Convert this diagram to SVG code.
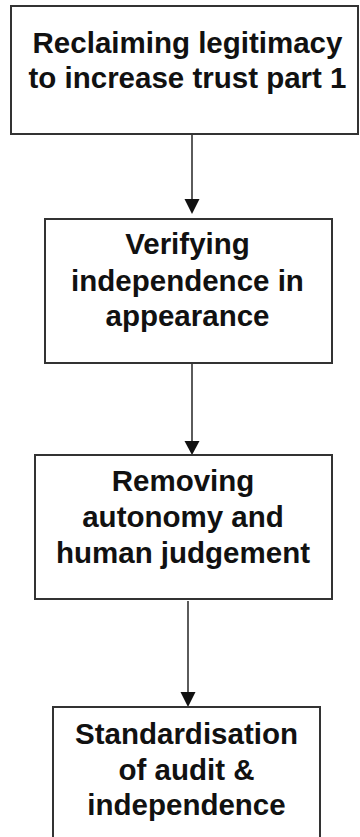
<svg xmlns="http://www.w3.org/2000/svg" width="360" height="837" viewBox="0 0 360 837">
  <style>
    .box { fill: #ffffff; stroke: #333333; stroke-width: 2; }
    .label { font-family: "Liberation Sans", Arial, sans-serif; font-weight: bold; font-size: 29.5px; fill: #111111; text-anchor: middle; }
    .link { stroke: #333333; stroke-width: 1.6; fill: none; }
    .head { fill: #111111; }
  </style>
  <rect width="360" height="837" fill="#ffffff"/>

  <g id="connectors">
    <line class="link" x1="192" y1="134" x2="192" y2="202"/>
    <polygon class="head" points="184.5,199 199.5,199 192,214"/>
    <line class="link" x1="192" y1="363" x2="192" y2="444"/>
    <polygon class="head" points="184.5,441 199.5,441 192,455"/>
    <line class="link" x1="188" y1="601" x2="188" y2="695"/>
    <polygon class="head" points="180.5,692 195.5,692 188,707"/>
  </g>

  <g id="reclaiming-legitimacy">
    <rect class="box" x="11" y="6" width="347" height="128"/>
    <text class="label" x="187.5" y="53">Reclaiming legitimacy</text>
    <text class="label" x="187.5" y="88">to increase trust part 1</text>
  </g>

  <g id="verifying-independence">
    <rect class="box" x="45" y="219" width="287" height="144"/>
    <text class="label" x="187.5" y="254">Verifying</text>
    <text class="label" x="187.5" y="291">independence in</text>
    <text class="label" x="187.5" y="326">appearance</text>
  </g>

  <g id="removing-autonomy">
    <rect class="box" x="35" y="455" width="297" height="144"/>
    <text class="label" x="183" y="491">Removing</text>
    <text class="label" x="183" y="527">autonomy and</text>
    <text class="label" x="183" y="563">human judgement</text>
  </g>

  <g id="standardisation">
    <rect class="box" x="53" y="707" width="267" height="140"/>
    <text class="label" x="186.5" y="744">Standardisation</text>
    <text class="label" x="186.5" y="780">of audit &amp;</text>
    <text class="label" x="186.5" y="815">independence</text>
  </g>
</svg>
